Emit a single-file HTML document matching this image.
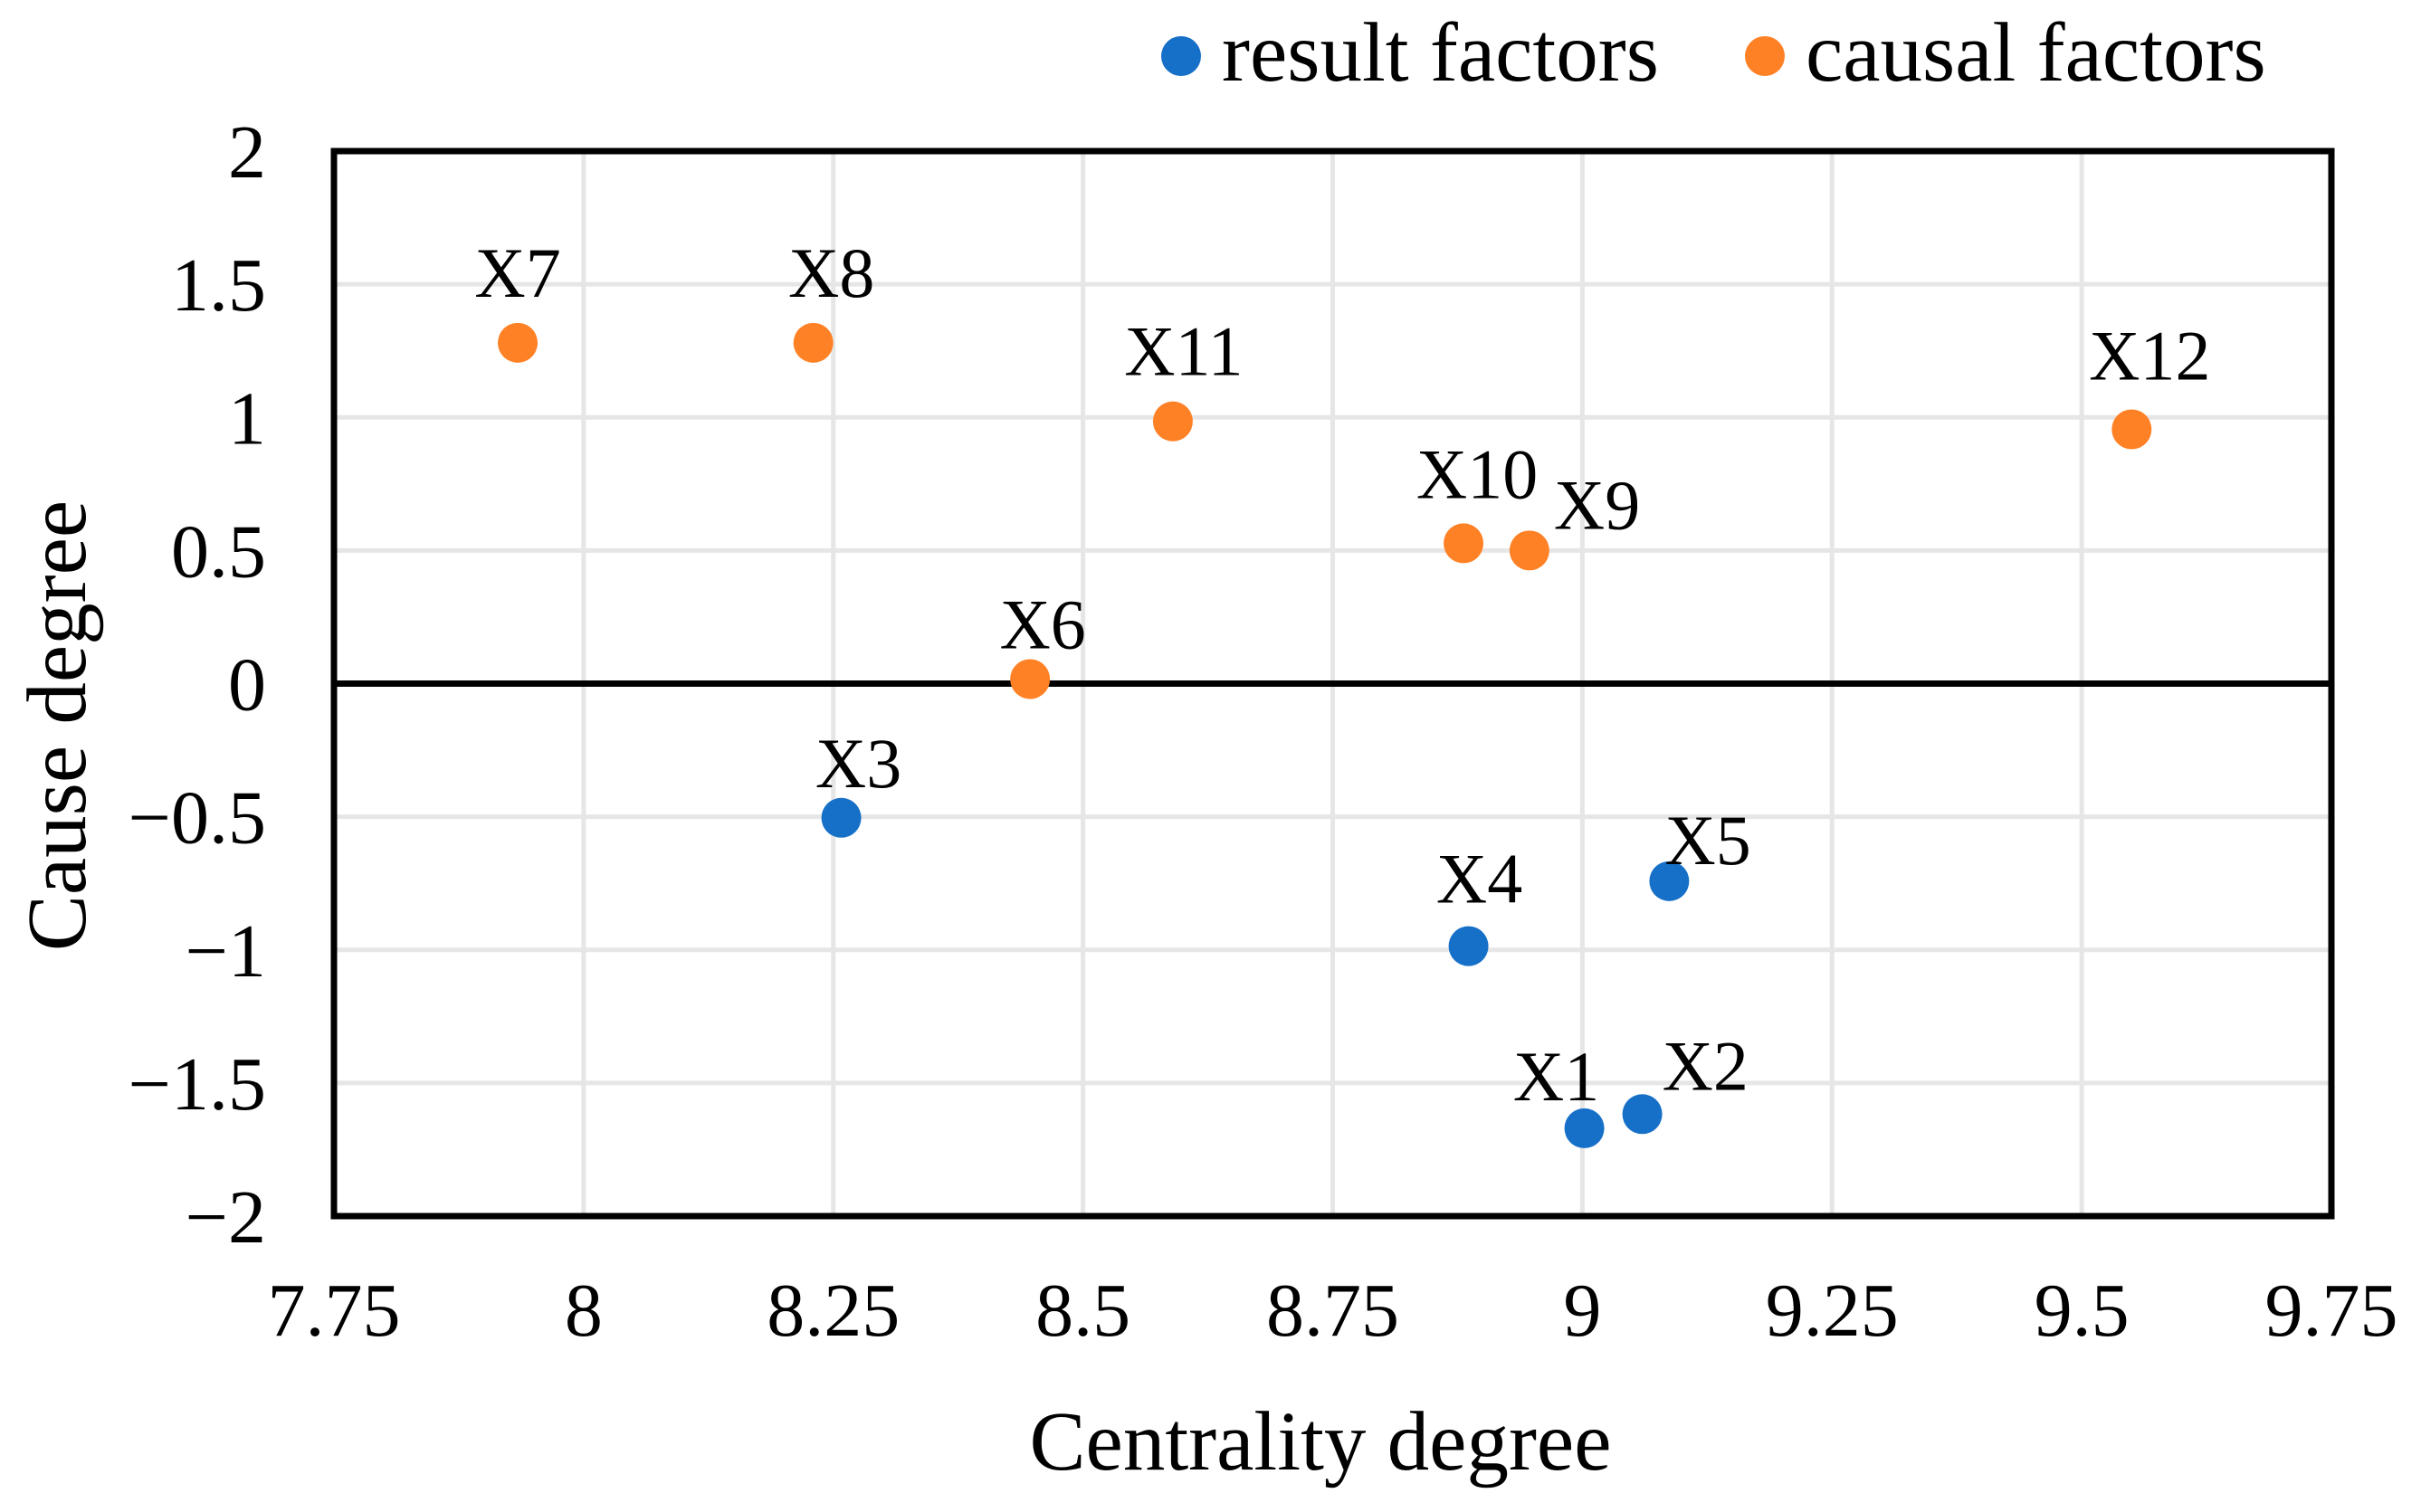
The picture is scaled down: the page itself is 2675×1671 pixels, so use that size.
<!DOCTYPE html>
<html><head><meta charset="utf-8"><style>
html,body{margin:0;padding:0;background:#fff;}
svg{display:block;font-family:"Liberation Serif",serif;}
</style></head><body>
<svg id="chart" width="2675" height="1671" viewBox="0 0 2675 1671" xmlns="http://www.w3.org/2000/svg">
<rect width="2675" height="1671" fill="#fff"/>
<g id="grid"></g>
<g id="axes"></g>
<g id="marks"></g>
<g>
  <g>
    <circle cx="1305" cy="62" r="22" fill="#1670C8"/>
    <text x="1350" y="89" font-size="93">result factors</text>
  </g>
  <g>
    <circle cx="1950" cy="62" r="22" fill="#FF8126"/>
    <text x="1995" y="89" font-size="93">causal factors</text>
  </g>
</g>
<text x="1459" y="1624" font-size="93" text-anchor="middle">Centrality degree</text>
<text transform="translate(94,802) rotate(-90)" font-size="93" text-anchor="middle">Cause degree</text>
</svg>
<script>
const labels = ["X1","X2","X3","X4","X5","X6","X7","X8","X9","X10","X11","X12"];
const xValues = [9.002,9.06,8.258,8.886,9.087,8.447,7.934,8.23,8.947,8.881,8.59,9.55];
const yValues = [-1.67,-1.617,-0.504,-0.986,-0.742,0.017,1.28,1.28,0.50,0.527,0.985,0.955];
const groups = ["result","result","result","result","result","causal","causal","causal","causal","causal","causal","causal"];
const xTicks = [7.75,8,8.25,8.5,8.75,9,9.25,9.5,9.75];
const xTickLabels = ["7.75","8","8.25","8.5","8.75","9","9.25","9.5","9.75"];
const yTicks = [2,1.5,1,0.5,0,-0.5,-1,-1.5,-2];
const yTickLabels = ["2","1.5","1","0.5","0","\u22120.5","\u22121","\u22121.5","\u22122"];

const L=369,R=2576,T=167,B=1344;
const xMin=7.75,xMax=9.75,yMin=-2,yMax=2;
function xs(v){return L+(v-xMin)/(xMax-xMin)*(R-L);}
function ys(v){return B-(v-yMin)/(yMax-yMin)*(B-T);}
const NS="http://www.w3.org/2000/svg";
function mk(tag,attrs,parent){const e=document.createElementNS(NS,tag);for(const k in attrs)e.setAttribute(k,attrs[k]);parent.appendChild(e);return e;}
const grid=document.getElementById('grid'),axes=document.getElementById('axes'),marks=document.getElementById('marks');

xTicks.forEach((t,i)=>{
  if(t>xMin&&t<xMax){const g=mk('line',{x1:xs(t),x2:xs(t),y1:T,y2:B,stroke:'#e6e6e6','stroke-width':5},grid);
  
  }
  const tx=mk('text',{x:xs(t),y:1476,'font-size':84,'text-anchor':'middle'},axes);
  tx.textContent=xTickLabels[i];
  
  
});
yTicks.forEach((t,i)=>{
  if(t>yMin&&t<yMax&&t!==0){const g=mk('line',{x1:L,x2:R,y1:ys(t),y2:ys(t),stroke:'#e6e6e6','stroke-width':5},grid);
  
  }
  const tx=mk('text',{x:294,y:ys(t)+29,'font-size':84,'text-anchor':'end'},axes);
  tx.textContent=yTickLabels[i];
  
  
});
const zl=mk('line',{x1:L,x2:R,y1:ys(0),y2:ys(0),stroke:'#000','stroke-width':7},axes);


const fr=mk('rect',{x:L,y:T,width:R-L,height:B-T,fill:'none',stroke:'#000','stroke-width':7},axes);



const off={X1:[-31,-31,'middle'],X2:[22,-27,'start'],X3:[19,-34,'middle'],X4:[12,-48,'middle'],X5:[-5,-19,'start'],
  X6:[14,-34,'middle'],X7:[0,-51,'middle'],X8:[20,-51,'middle'],X9:[27,-24,'start'],X10:[15,-50,'middle'],X11:[12,-51,'middle'],X12:[20,-55,'middle']};
labels.forEach((lab,i)=>{
  const cx=xs(xValues[i]),cy=ys(yValues[i]);
  const c=mk('circle',{cx:cx,cy:cy,r:22,fill:groups[i]==='result'?'#1670C8':'#FF8126'},marks);
  
  
  const o=off[lab]||[0,-50,'middle'];
  const t=mk('text',{x:cx+o[0],y:cy+o[1],'font-size':78,'text-anchor':o[2]},marks);
  t.textContent=lab;
  
  
});
</script>
</body></html>
